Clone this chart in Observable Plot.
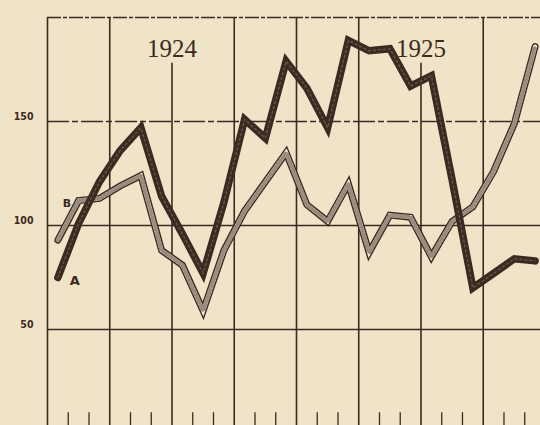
<!DOCTYPE html>
<html>
<head>
<meta charset="utf-8">
<script src="https://cdn.jsdelivr.net/npm/d3@7"></script>
<script src="https://cdn.jsdelivr.net/npm/@observablehq/plot@0.6"></script>
<style>
  html, body { margin: 0; padding: 0; background: #efe4c7; }
  #chart svg { display: block; }
</style>
</head>
<body>
<div id="chart"></div>
<script>
// Months shown (July 1923 – June 1925), one value per month
const months = [
  "1923-07","1923-08","1923-09","1923-10","1923-11","1923-12",
  "1924-01","1924-02","1924-03","1924-04","1924-05","1924-06",
  "1924-07","1924-08","1924-09","1924-10","1924-11","1924-12",
  "1925-01","1925-02","1925-03","1925-04","1925-05","1925-06"
];
const seriesA = [75, 101, 121, 136, 147, 114, 96, 77, 111, 151, 142, 179,
                 166, 147, 189, 184, 185, 167, 172, 122, 70, 77, 84, 83];
const seriesB = [93, 112, 113, 119, 124, 88, 81, 59, 88, 107, 121, 135,
                 110, 102, 120, 87, 105, 104, 85, 102, 109, 126, 149, 186];
const yTicks = [50, 100, 150];
const yearLabels = ["1924", "1925"];
const yearStartIndex = [6, 18];
const seriesNames = ["A", "B"];

const ink = "#3b2a21";
const paper = "#efe4c7";

const dataA = seriesA.map((v, i) => ({month: months[i], i: i + 0.5, v}));
const dataB = seriesB.map((v, i) => ({month: months[i], i: i + 0.5, v}));

const yMin = 3.85, yMax = 200;
const quarterLines = d3.range(0, 24, 3).filter(m => !yearStartIndex.includes(m));
const monthTicks = d3.range(1, 24).filter(m => m % 3 !== 0);

const chart = Plot.plot({
  width: 540,
  height: 425,
  marginLeft: 47,
  marginRight: 0,
  marginTop: 17,
  marginBottom: 0,
  style: {background: paper, overflow: "visible"},
  x: {domain: [0, 23.76], axis: null},
  y: {domain: [yMin, yMax], axis: null},
  marks: [
    // horizontal grid
    Plot.ruleY([50, 100], {stroke: ink, strokeWidth: 1.3}),
    Plot.ruleY([150], {stroke: ink, strokeWidth: 1.3, strokeDasharray: "22,3,6,3"}),
    Plot.ruleY([yMax], {stroke: ink, strokeWidth: 1.3, strokeDasharray: "14,2,4,2"}),
    // quarter verticals
    Plot.ruleX(quarterLines, {x: d => d, y1: yMin, y2: yMax, stroke: ink, strokeWidth: 1.6}),
    // year verticals (start below the year label)
    Plot.ruleX(yearStartIndex, {x: d => d, y1: yMin, y2: 178, stroke: ink, strokeWidth: 1.6}),
    // month ticks at the bottom
    Plot.ruleX(monthTicks, {x: d => d, y1: yMin, y2: 10, stroke: ink, strokeWidth: 1.3}),
    // year labels
    Plot.text(yearLabels, {x: (d, i) => yearStartIndex[i], y: 185, text: d => d,
      fontSize: 25, fontFamily: "Liberation Serif", fill: ink}),
    // y tick labels
    Plot.text(yTicks, {x: 0, y: d => d, text: d => String(d), dx: -14, dy: -5,
      textAnchor: "end", fontSize: 10.5, fontWeight: "bold",
      fontFamily: "DejaVu Sans Condensed", fill: ink}),
    // series B (hatched double line)
    Plot.line(dataB, {x: "i", y: "v", stroke: ink, strokeWidth: 7, strokeLinejoin: "miter", strokeMiterlimit: 6}),
    Plot.line(dataB, {x: "i", y: "v", stroke: "#f6eedb", strokeWidth: 4.2, strokeLinejoin: "miter", strokeMiterlimit: 6}),
    Plot.line(dataB, {x: "i", y: "v", stroke: ink, strokeWidth: 4.2, strokeDasharray: "1,3", strokeOpacity: 0.5, strokeLinejoin: "miter"}),
    // series A (heavy dark line)
    Plot.line(dataA, {x: "i", y: "v", stroke: ink, strokeWidth: 7.5, strokeLinejoin: "miter", strokeMiterlimit: 6}),
    Plot.line(dataA, {x: "i", y: "v", stroke: "#9c8b76", strokeWidth: 1.4, strokeDasharray: "2,3", strokeOpacity: 0.45}),
    // series labels
    Plot.text([dataA[0]], {x: "i", y: "v", text: () => seriesNames[0], dx: 17, dy: 3,
      fontSize: 13, fontWeight: "bold", fontFamily: "DejaVu Sans", fill: ink}),
    Plot.text([dataB[0]], {x: "i", y: "v", text: () => seriesNames[1], dx: 9, dy: -37,
      fontSize: 11, fontWeight: "bold", fontFamily: "DejaVu Sans", fill: ink})
  ]
});
document.getElementById("chart").appendChild(chart);
</script>
</body>
</html>
